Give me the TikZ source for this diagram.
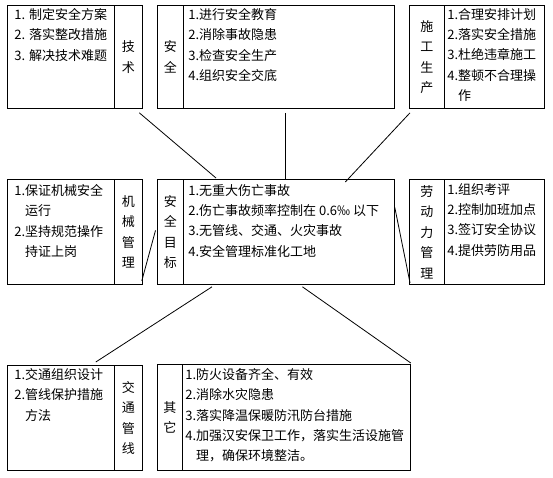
\documentclass[tikz,border=0pt]{standalone}
\usepackage{fontspec}
\newfontfamily\cjk{Noto Sans CJK SC}
\usepackage{tikz}
\usetikzlibrary{calc}

\begin{document}
\begin{tikzpicture}[x=1pt,y=-1pt,line width=.8pt,
  cell/.style={draw,inner sep=0pt,anchor=north west},
  tag/.style={align=center,font=\cjk\fontsize{13}{20.5}\selectfont},
  items/.style={anchor=north west,align=left,inner sep=0pt,font=\cjk\fontsize{13}{20.3}\selectfont}]
 \useasboundingbox (0,0) rectangle (553,477);
 % top row
 \node[cell,minimum width=107,minimum height=103] (tech) at (7,5) {};
 \node[cell,tag,minimum width=28,minimum height=103] (techT) at (114,5) {技\\术};
 \node[items] (techI) at (14,8) {1. 制定安全方案\\2. 落实整改措施\\3. 解决技术难题};
 \node[cell,tag,minimum width=26,minimum height=103] (safeT) at (157,5) {安\\全};
 \node[cell,minimum width=211,minimum height=103] (safe) at (183,5) {};
 \node[items] (safeI) at (188,8) {1.进行安全教育\\2.消除事故隐患\\3.检查安全生产\\4.组织安全交底};
 \node[cell,tag,minimum width=35,minimum height=103] (consT) at (409,5) {施\\工\\生\\产};
 \node[cell,minimum width=100,minimum height=103] (cons) at (444,5) {};
 \node[items] (consI) at (447,8) {1.合理安排计划\\2.落实安全措施\\3.杜绝违章施工\\4.整顿不合理操\\\phantom{4.}作};
 % middle row
 \node[cell,minimum width=107,minimum height=105] (mach) at (7,179) {};
 \node[cell,tag,minimum width=28,minimum height=105] (machT) at (114,179) {机\\械\\管\\理};
 \node[items] (machI) at (14,184) {1.保证机械安全\\\phantom{1.}运行\\2.坚持规范操作\\\phantom{2.}持证上岗};
 \node[cell,tag,minimum width=26,minimum height=105] (goalT) at (157,179) {安\\全\\目\\标};
 \node[cell,minimum width=211,minimum height=105] (goal) at (183,179) {};
 \node[items] (goalI) at (188,184) {1.无重大伤亡事故\\2.伤亡事故频率控制在 0.6‰ 以下\\3.无管线、交通、火灾事故\\4.安全管理标准化工地};
 \node[cell,tag,minimum width=35,minimum height=105] (laborT) at (409,179) {劳\\动\\力\\管\\理};
 \node[cell,minimum width=100,minimum height=105] (labor) at (444,179) {};
 \node[items] (laborI) at (447,183) {1.组织考评\\2.控制加班加点\\3.签订安全协议\\4.提供劳防用品};
 % bottom row
 \node[cell,minimum width=107,minimum height=105] (traffic) at (7,365) {};
 \node[cell,tag,minimum width=28,minimum height=105] (trafficT) at (114,365) {交\\通\\管\\线};
 \node[items] (trafficI) at (14,368) {1.交通组织设计\\2.管线保护措施\\\phantom{2.}方法};
 \node[cell,tag,minimum width=25,minimum height=106] (otherT) at (157,364) {其\\它};
 \node[cell,minimum width=228,minimum height=106] (other) at (182,364) {};
 \node[items] (otherI) at (185,368) {1.防火设备齐全、有效\\2.消除水灾隐患\\3.落实降温保暖防汛防台措施\\4.加强汉安保卫工作，落实生活设施管\\\phantom{4.}理，确保环境整洁。};
 % links to the goal box
 \draw ($(techT.south east)+(-3.5,4)$) -- ($(goal.north west)+(33,-1)$);
 \draw ($(safe.south)+(-3.5,4)$) -- ($(goal.north)+(-3.5,0)$);
 \draw ($(consT.south west)+(1,4)$) -- ($(goal.north east)+(-49.5,3)$);
 \draw ($(machT.south east)+(-1,-4)$) -- ($(goalT.west)+(-1.5,-1.5)$);
 \draw ($(goal.east)+(0,-24.5)$) -- ($(laborT.south west)+(1,-2)$);
 \draw ($(goal.south west)+(29,2)$) -- ($(traffic.north east)+(-19,-3)$);
 \draw ($(goal.south)+(13.5,2)$) -- ($(other.north east)+(0,-1)$);
\end{tikzpicture}
\end{document}
